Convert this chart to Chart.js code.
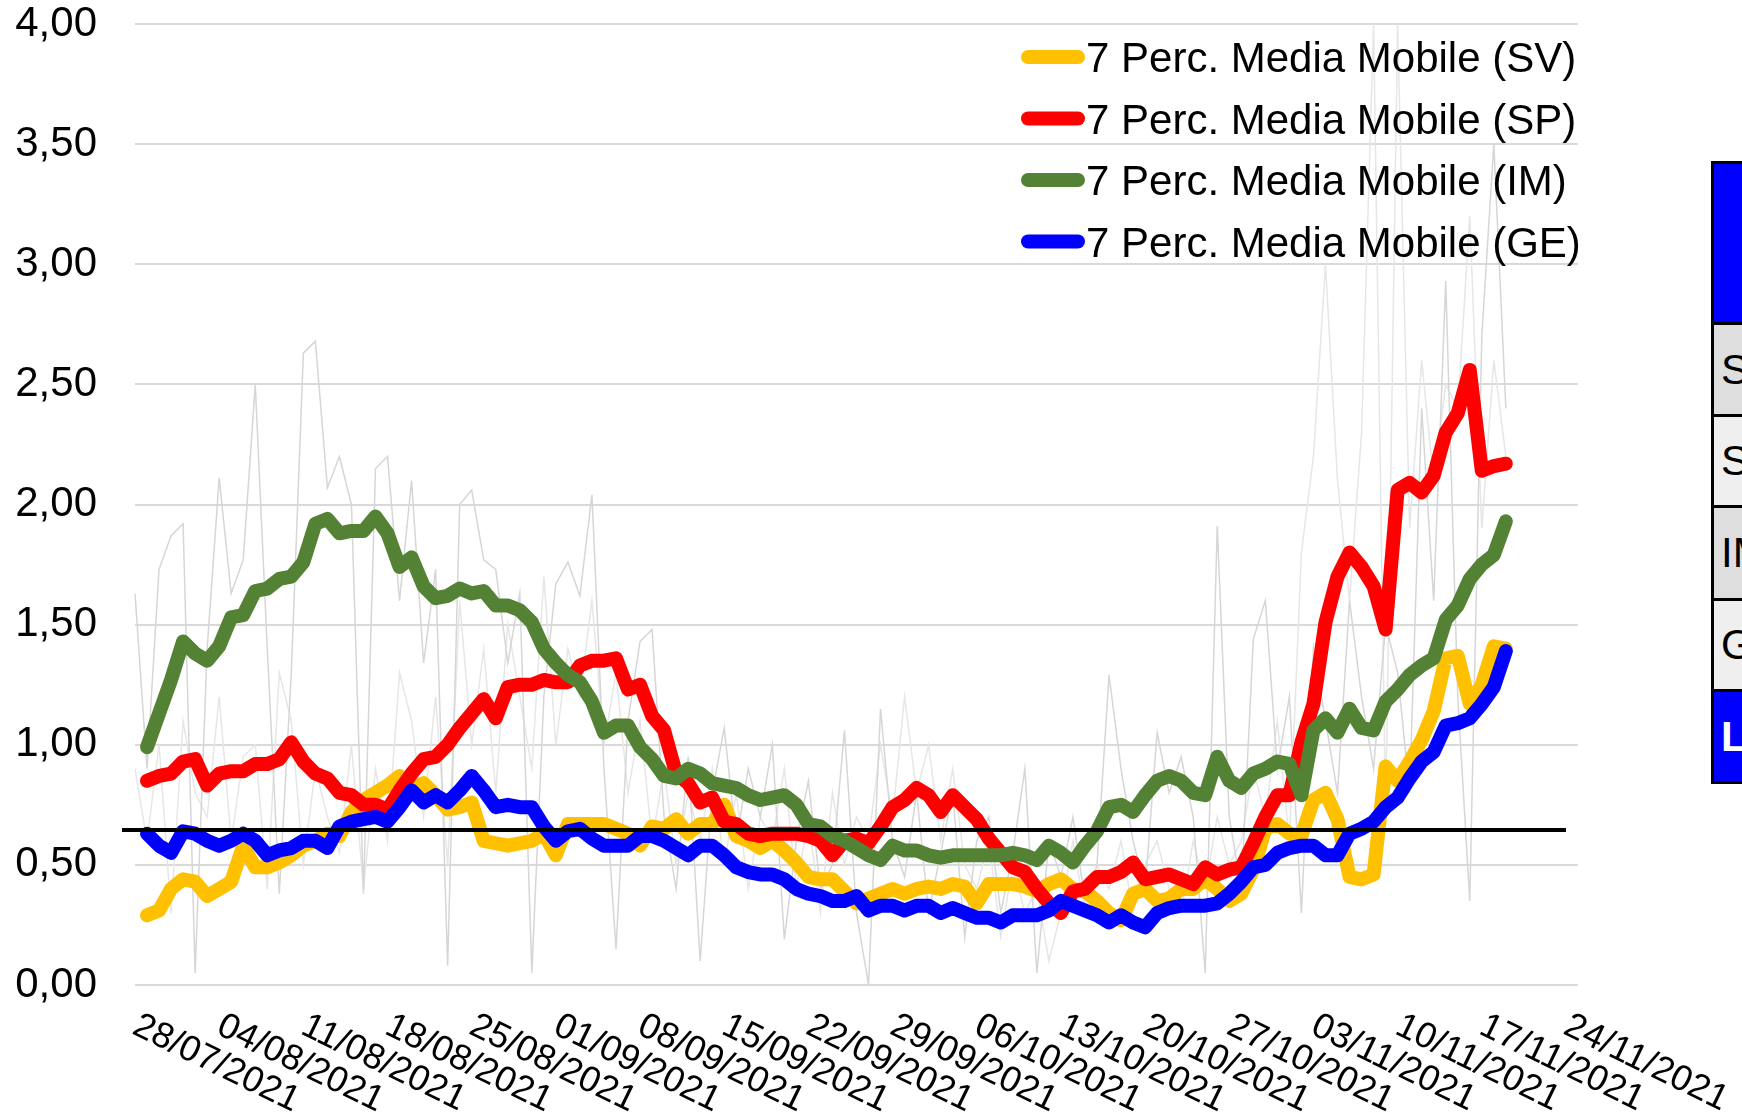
<!DOCTYPE html>
<html><head><meta charset="utf-8">
<script src="https://cdn.jsdelivr.net/npm/chart.js@4.4.0/dist/chart.umd.min.js"></script>
<style>
html,body{margin:0;padding:0;background:#fff;overflow:hidden}
#wrap{position:relative;width:1742px;height:1118px;overflow:hidden;background:#fff}
#c{position:absolute;left:0;top:0}
.cell{position:absolute;box-sizing:border-box;border:3px solid #000;font-family:"Liberation Sans",Arial,sans-serif;font-size:42px;line-height:1;display:flex;align-items:center;padding-left:7px;white-space:nowrap;overflow:hidden}
</style></head><body>
<div id="wrap"><canvas id="c" width="1742" height="1118"></canvas><div id="tbl"></div></div>
<script>
// ---- data (7-day moving averages, daily from 28/07/2021) ----
const firstDay = '28/07/2021';
const rawFirstDay = '27/07/2021';
const tickLabels = ['28/07/2021','04/08/2021','11/08/2021','18/08/2021','25/08/2021','01/09/2021','08/09/2021','15/09/2021','22/09/2021','29/09/2021','06/10/2021','13/10/2021','20/10/2021','27/10/2021','03/11/2021','10/11/2021','17/11/2021','24/11/2021'];
const seriesNames = ['7 Perc. Media Mobile (SV)','7 Perc. Media Mobile (SP)','7 Perc. Media Mobile (IM)','7 Perc. Media Mobile (GE)'];
const seriesColors = ['#FFC000','#FF0000','#548235','#0000FF'];

const SV = [0.29,0.31,0.40,0.44,0.43,0.37,0.40,0.43,0.58,0.49,0.49,0.51,0.54,0.58,0.60,0.63,0.62,0.72,0.77,0.80,0.83,0.87,0.82,0.84,0.79,0.73,0.74,0.76,0.60,0.59,0.58,0.59,
0.60,0.63,0.54,0.67,0.67,0.67,0.67,0.65,0.63,0.58,0.66,0.65,0.69,0.63,0.67,0.67,0.75,0.62,0.60,0.57,0.60,0.56,0.51,0.45,0.44,0.44,0.39,0.34,0.36,0.38,0.40,0.38,
0.40,0.41,0.40,0.42,0.41,0.34,0.42,0.42,0.42,0.41,0.39,0.42,0.44,0.40,0.39,0.35,0.30,0.27,0.38,0.40,0.35,0.36,0.40,0.40,0.44,0.40,0.35,0.38,0.48,0.65,0.67,0.63,0.62,
0.77,0.80,0.69,0.45,0.44,0.46,0.91,0.85,0.93,1.02,1.14,1.36,1.37,1.17,1.25,1.41,1.40];
const SP = [0.85,0.87,0.88,0.93,0.94,0.83,0.88,0.89,0.89,0.92,0.92,0.94,1.01,0.93,0.88,0.86,0.80,0.79,0.75,0.75,0.73,0.81,0.88,0.94,0.95,1.00,1.07,1.13,1.19,1.11,1.24,1.25,
1.25,1.27,1.26,1.26,1.33,1.35,1.35,1.36,1.23,1.25,1.12,1.06,0.88,0.84,0.76,0.78,0.68,0.67,0.63,0.62,0.63,0.63,0.63,0.62,0.60,0.54,0.60,0.61,0.59,0.66,0.74,0.77,
0.82,0.79,0.72,0.79,0.74,0.69,0.61,0.55,0.49,0.47,0.40,0.34,0.30,0.39,0.40,0.45,0.45,0.47,0.51,0.44,0.45,0.46,0.44,0.42,0.49,0.46,0.48,0.49,0.59,0.70,0.79,0.79,1.01,
1.17,1.51,1.70,1.80,1.74,1.66,1.48,2.06,2.09,2.05,2.12,2.30,2.38,2.56,2.14,2.16,2.17];
const IM = [0.99,1.13,1.27,1.43,1.38,1.35,1.41,1.53,1.54,1.64,1.65,1.69,1.70,1.76,1.92,1.94,1.88,1.89,1.89,1.95,1.88,1.74,1.78,1.66,1.61,1.62,1.65,1.63,1.64,1.58,1.58,1.56,
1.51,1.40,1.34,1.29,1.26,1.18,1.05,1.08,1.08,0.99,0.94,0.87,0.86,0.90,0.88,0.84,0.83,0.82,0.79,0.77,0.78,0.79,0.75,0.67,0.66,0.62,0.60,0.57,0.54,0.52,0.58,0.56,
0.56,0.54,0.53,0.54,0.54,0.54,0.54,0.54,0.55,0.54,0.52,0.58,0.55,0.51,0.58,0.64,0.74,0.75,0.72,0.79,0.85,0.87,0.85,0.80,0.79,0.95,0.85,0.82,0.88,0.90,0.93,0.92,0.79,
1.06,1.11,1.05,1.15,1.07,1.06,1.18,1.23,1.29,1.33,1.36,1.52,1.58,1.69,1.75,1.79,1.93];
const GE = [0.63,0.58,0.55,0.64,0.63,0.60,0.58,0.60,0.63,0.60,0.54,0.56,0.57,0.60,0.60,0.57,0.66,0.68,0.69,0.70,0.68,0.74,0.81,0.76,0.79,0.76,0.81,0.87,0.81,0.74,0.75,0.74,
0.74,0.66,0.60,0.64,0.65,0.61,0.58,0.58,0.58,0.62,0.62,0.60,0.57,0.54,0.58,0.58,0.54,0.49,0.47,0.46,0.46,0.44,0.40,0.38,0.37,0.35,0.35,0.37,0.31,0.33,0.33,0.31,
0.33,0.33,0.30,0.32,0.30,0.28,0.28,0.26,0.29,0.29,0.29,0.31,0.35,0.33,0.31,0.29,0.26,0.29,0.26,0.24,0.30,0.32,0.33,0.33,0.33,0.34,0.38,0.43,0.49,0.50,0.55,0.57,0.58,
0.58,0.54,0.54,0.63,0.65,0.68,0.74,0.78,0.86,0.93,0.97,1.08,1.09,1.11,1.17,1.24,1.39];

// ---- faint daily values (gray background lines, daily from 27/07/2021) ----
const RAW_A = [1.63,0.90,1.73,1.87,1.92,0.05,1.40,2.11,1.63,1.77,2.50,1.40,0.38,1.30,2.63,2.68,2.07,2.20,2.00,0.38,2.15,2.20,1.60,2.10,1.34,1.73,0.08,2.00,2.06,1.77,1.73,1.34,1.63,
0.05,1.20,1.67,1.76,1.62,2.04,0.90,0.15,1.10,1.43,1.48,0.70,0.40,0.95,0.10,0.80,1.07,0.60,0.90,0.70,1.00,0.19,0.60,0.85,0.40,0.50,1.06,0.30,0.00,1.15,0.60,0.45,
0.80,0.30,0.55,0.80,0.20,0.60,0.70,0.30,0.55,0.90,0.05,0.60,0.45,0.70,0.35,0.50,1.29,0.90,0.60,0.40,1.05,0.80,0.95,0.70,0.05,1.91,0.70,0.40,1.44,1.60,0.90,1.20,0.30,
1.40,1.10,0.80,1.60,1.20,0.90,1.50,1.30,0.80,2.40,1.60,2.93,1.20,0.35,2.70,3.50,2.40];
const RAW_B = [0.90,0.60,1.00,0.30,1.10,0.80,0.70,1.20,0.60,0.95,1.00,0.40,1.30,1.10,0.50,0.90,0.70,0.55,1.00,0.40,0.90,0.60,1.30,1.10,0.70,1.20,0.50,1.60,1.00,1.40,0.80,1.50,1.20,
0.90,1.70,1.00,1.40,1.20,1.60,1.00,1.30,0.80,1.10,0.60,0.90,0.50,0.80,0.60,0.90,0.50,0.80,0.40,0.70,0.60,0.90,0.40,0.70,0.30,0.80,0.50,0.70,0.60,1.00,0.70,1.20,
0.80,1.00,0.60,0.90,0.50,0.40,0.60,0.20,0.50,0.30,0.40,0.10,0.30,0.60,0.30,0.50,0.40,0.60,0.30,0.50,0.60,0.40,0.30,0.60,0.40,0.70,0.50,0.60,0.90,0.70,1.10,0.60,1.80,
2.20,3.00,2.10,1.60,2.30,4.00,0.70,4.00,1.90,2.60,2.10,2.50,2.40,3.20,1.90,2.60,2.20];
const rawColors = ['#d6d6d6','#e6e6e6'];

const THRESHOLD = 0.645;
const yTicks = [0,0.5,1,1.5,2,2.5,3,3.5,4];
const tableRows = ['SV','SP','IM','GE','LIGURIA'];

// ---- day categories: 27/07/2021 .. 24/11/2021 ----
const days = [];
for (let t = Date.UTC(2021,6,27); t <= Date.UTC(2021,10,24); t += 86400000) {
  const d = new Date(t);
  days.push(String(d.getUTCDate()).padStart(2,'0') + '/' + String(d.getUTCMonth()+1).padStart(2,'0') + '/' + d.getUTCFullYear());
}
function place(arr, start){ const off = days.indexOf(start); const out = new Array(days.length).fill(null); arr.forEach((v,i)=>{ out[off+i]=v; }); return out; }

const FONT = '"Liberation Sans", Arial, Helvetica, sans-serif';
Chart.defaults.font.family = FONT;

const allSeries = [SV, SP, IM, GE];
const datasets = allSeries.map((s,i)=>({
  label: seriesNames[i], data: place(s, firstDay), borderColor: seriesColors[i], backgroundColor: seriesColors[i],
  borderWidth: 14, pointRadius: 0, tension: 0, fill: false, borderCapStyle: 'round', borderJoinStyle: 'round',
  order: 4 - i
}));
[RAW_A, RAW_B].forEach((s,i)=>{
  datasets.push({ label: 'raw' + i, data: place(s, rawFirstDay), borderColor: rawColors[i], borderWidth: 1.5,
    pointRadius: 0, tension: 0, fill: false, order: 10 + i });
});

const overlay = {
  id: 'overlay',
  afterDatasetsDraw(chart){
    const ctx = chart.ctx, xs = chart.scales.x, ys = chart.scales.y;
    const y = ys.getPixelForValue(THRESHOLD);
    ctx.save();
    ctx.strokeStyle = '#000'; ctx.lineWidth = 4;
    ctx.beginPath();
    ctx.moveTo(chart.chartArea.left - 13, y);
    ctx.lineTo(xs.getPixelForValue(days.length - 2), y);
    ctx.stroke();
    ctx.restore();
  },
  afterDraw(chart){
    const ctx = chart.ctx, xs = chart.scales.x;
    ctx.save();
    ctx.fillStyle = '#000';
    ctx.font = '36px ' + FONT;
    ctx.textAlign = 'left'; ctx.textBaseline = 'top';
    tickLabels.forEach(lab => {
      const x = xs.getPixelForValue(days.indexOf(lab));
      ctx.save();
      ctx.translate(x - 4, 1008);
      ctx.rotate(26 * Math.PI / 180);
      ctx.fillText(lab, 0, 0);
      ctx.restore();
    });
    ctx.restore();
    ctx.save();
    ctx.font = '42px ' + FONT;
    ctx.textAlign = 'left'; ctx.textBaseline = 'alphabetic';
    seriesNames.forEach((name,i) => {
      const cy = 57 + 61.5 * i;
      ctx.strokeStyle = seriesColors[i]; ctx.lineWidth = 14; ctx.lineCap = 'round';
      ctx.beginPath(); ctx.moveTo(1028, cy); ctx.lineTo(1078, cy); ctx.stroke();
      ctx.fillStyle = '#000';
      ctx.fillText(name, 1086, cy + 15);
    });
    ctx.restore();
  }
};

new Chart(document.getElementById('c'), {
  type: 'line',
  data: { labels: days, datasets },
  options: {
    responsive: false, animation: false, devicePixelRatio: 1,
    layout: { padding: { left: 0, top: 24, right: 164, bottom: 133 } },
    plugins: { legend: { display: false }, tooltip: { enabled: false } },
    scales: {
      x: { type: 'category', display: false, offset: false },
      y: {
        min: 0, max: 4,
        afterFit(scale){ scale.width = 135; scale.paddingTop = 0; scale.paddingBottom = 0; },
        afterBuildTicks(scale){ scale.ticks = yTicks.map(v => ({ value: v })); },
        border: { display: false },
        grid: { color: '#d9d9d9', lineWidth: 2, drawTicks: false },
        ticks: { padding: 38, color: '#000', font: { size: 42 }, callback: v => Number(v).toFixed(2).replace('.', ',') }
      }
    }
  },
  plugins: [overlay]
});

// ---- table (cut off at the right edge) ----
const tbl = document.getElementById('tbl');
const rowTops = [161, 322, 414, 505, 598, 689, 781];
function cell(top, h, bg, color, txt, bold){
  const d = document.createElement('div');
  d.className = 'cell';
  d.style.left = '1711px'; d.style.width = '200px';
  d.style.top = top + 'px'; d.style.height = h + 'px';
  d.style.background = bg; d.style.color = color;
  if (bold) d.style.fontWeight = 'bold';
  d.textContent = txt;
  tbl.appendChild(d);
}
cell(rowTops[0], rowTops[1] - rowTops[0] + 3, '#0000FF', '#fff', '', true);
const rowBg = ['#DEDEDE','#EFEFEF','#DEDEDE','#EFEFEF','#0000FF'];
tableRows.forEach((t,i) => {
  const last = i === tableRows.length - 1;
  cell(rowTops[i+1], rowTops[i+2] - rowTops[i+1] + 3, rowBg[i], last ? '#fff' : '#000', t, last);
});
</script>
</body></html>
